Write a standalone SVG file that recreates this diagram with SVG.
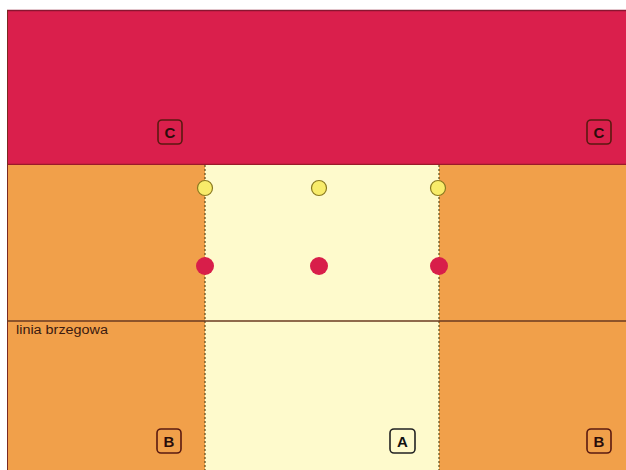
<svg xmlns="http://www.w3.org/2000/svg" width="626" height="470" viewBox="0 0 626 470">
<style>
.lbl{fill:none;stroke:#5a1a10;stroke-width:1.6}
.t{font-family:"Liberation Sans",Arial,sans-serif;font-size:15px;font-weight:bold;fill:#2a0d0a;text-anchor:middle}
.dot{stroke:#5a4a1a;stroke-width:1.2;stroke-dasharray:2 2;fill:none}
.y{fill:#f8ec6a;stroke:#8a7a20;stroke-width:1.2}
.r{fill:#d81e4a}
</style>
<rect width="626" height="470" fill="#ffffff"/>
<g id="zone-C">
<rect x="7" y="10" width="619" height="155" fill="#da1f4c"/>
<line x1="7" y1="10.5" x2="626" y2="10.5" stroke="#8a1530" stroke-width="1.5"/>
<line x1="7" y1="164.5" x2="626" y2="164.5" stroke="#9a1a2a" stroke-width="1.5"/>
</g>
<g id="zone-B-left"><rect x="7" y="165" width="198" height="305" fill="#f1a04a"/></g>
<g id="zone-A"><rect x="205" y="165" width="234" height="305" fill="#fefacc"/></g>
<g id="zone-B-right"><rect x="439" y="165" width="187" height="305" fill="#f1a04a"/></g>
<line x1="7.5" y1="10" x2="7.5" y2="470" stroke="#7a2a20" stroke-width="1"/>
<g id="connectors">
<line class="dot" x1="205" y1="165" x2="205" y2="470"/>
<line class="dot" x1="439" y1="165" x2="439" y2="470"/>
<line x1="7" y1="321" x2="626" y2="321" stroke="#6a3a20" stroke-width="1.5"/>
</g>
<g id="shoreline"><text x="16" y="334" font-family="'Liberation Sans',Arial,sans-serif" font-size="12" textLength="92" lengthAdjust="spacingAndGlyphs" fill="#3a1a10">linia brzegowa</text></g>
<g id="label-C1"><rect class="lbl" x="158" y="120" width="24" height="24" rx="4"/><text class="t" x="170" y="138">C</text></g>
<g id="label-C2"><rect class="lbl" x="587" y="120" width="24" height="24" rx="4"/><text class="t" x="599" y="138">C</text></g>
<g id="label-B1"><rect class="lbl" x="157" y="429" width="24" height="24" rx="4"/><text class="t" x="169" y="447">B</text></g>
<g id="label-A"><rect x="390" y="429" width="25" height="24" rx="4" fill="none" stroke="#222" stroke-width="1.6"/><text class="t" x="402.5" y="447" style="fill:#111">A</text></g>
<g id="label-B2"><rect class="lbl" x="587" y="429" width="24" height="24" rx="4"/><text class="t" x="599" y="447">B</text></g>
<g id="y1"><circle class="y" cx="205" cy="188" r="7.5"/></g>
<g id="y2"><circle class="y" cx="319" cy="188" r="7.5"/></g>
<g id="y3"><circle class="y" cx="438" cy="188" r="7.5"/></g>
<g id="r1"><circle class="r" cx="205" cy="266" r="9"/></g>
<g id="r2"><circle class="r" cx="319" cy="266" r="9"/></g>
<g id="r3"><circle class="r" cx="439" cy="266" r="9"/></g>
</svg>
